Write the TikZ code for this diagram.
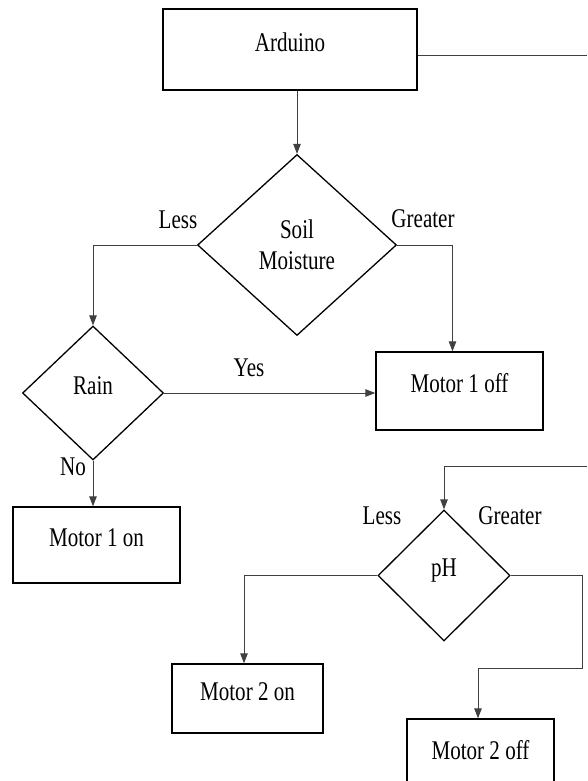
\documentclass[tikz,border=0pt]{standalone}
\usepackage{fontspec}
\setmainfont[FakeStretch=0.78]{Liberation Serif}
\usepackage{tikz}
\usetikzlibrary{shapes.geometric, arrows.meta}
\tikzstyle{box} = [rectangle, draw=black, line width=1.4pt,
    inner sep=0pt, text height=18pt, text depth=14.5pt]
\tikzstyle{decision} = [diamond, draw=black, line width=1.3pt,
    inner sep=0pt, align=center]
\tikzstyle{lbl} = [inner sep=0pt]
\tikzstyle{arrow} = [draw=black!75, line width=0.9pt,
    -{Triangle[length=10pt,width=7.5pt]}]
\tikzstyle{line} = [draw=black!75, line width=0.9pt]

\begin{document}
\begin{tikzpicture}[x=1pt, y=-1pt,
    font=\fontsize{27}{31}\selectfont]

        \clip (0,0) rectangle (587,781);

        % Nodes
        \node (ard) [box, minimum width=254pt, minimum height=81pt] at (290,49.5) {Arduino};

        \node (soil) [decision, minimum width=199pt, minimum height=181pt] at (297,245) {Soil\\Moisture};

        \node (rain) [decision, minimum width=141pt, minimum height=134pt,
            text height=18pt, text depth=14.5pt] at (93,393) {Rain};

        \node (m1off) [box, minimum width=167pt, minimum height=78pt] at (459.5,391) {Motor 1 off};

        \node (m1on) [box, minimum width=167pt, minimum height=76pt] at (96.5,545) {Motor 1 on};

        \node (ph) [decision, minimum width=132pt, minimum height=131pt,
            text height=18pt, text depth=16pt] at (444,575.5) {pH};

        \node (m2on) [box, minimum width=151pt, minimum height=69pt] at (247.5,698.5) {Motor 2 on};

        \node (m2off) [box, minimum width=147pt, minimum height=78pt] at (480.5,758) {Motor 2 off};

        % Labels
        \node (less1) [lbl] at (178,220) {Less};
        \node (great1) [lbl] at (423,219) {Greater};
        \node (yes) [lbl] at (249,368) {Yes};
        \node (no) [lbl] at (73,467) {No};
        \node (less2) [lbl] at (382,516) {Less};
        \node (great2) [lbl] at (510,516) {Greater};

        % Free ends and bends
        \coordinate (rim) at (587,55);
        \coordinate (rimph) at (587,466);
        \coordinate (bend) at (582,668);

        % Arrows
        \draw [line] (ard.east |- rim) -- (rim);
        \draw [arrow] (soil.north |- ard.south) -- (soil.north);
        \draw [arrow] (soil.west) -| (rain.north);
        \draw [arrow] (soil.east) -| ([xshift=-7pt]m1off.north);
        \draw [arrow] (rain.east) -- (rain.east -| m1off.west);
        \draw [arrow] (rain.south) -- (rain.south |- m1on.north);
        \draw [arrow] (rimph) -| (ph.north);
        \draw [arrow] (ph.west) -| ([xshift=-3.5pt]m2on.north);
        \draw [arrow] (ph.east) -| (bend) -| ([xshift=-2.5pt]m2off.north);

    \end{tikzpicture}
\end{document}
